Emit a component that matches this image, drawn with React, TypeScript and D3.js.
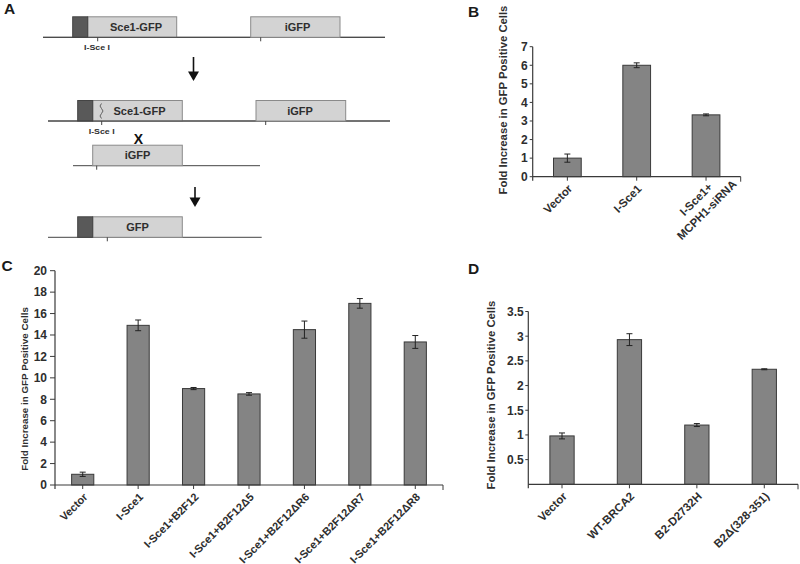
import React from 'react';
import * as d3 from 'd3';

const FONT = 'Arial, "Liberation Sans", Helvetica, sans-serif';
const TEXT = '#2e2e2e';
const BAR = '#848484';
const EDGE = '#3a3a3a';

// B: I-Sce1 with/without MCPH1 knockdown
const bCategories = ['Vector', 'I-Sce1', 'I-Sce1+\nMCPH1-siRNA'];
const bValues = [1.0, 6.0, 3.33];
const bErrors = [0.22, 0.13, 0.05];
const bTicks = [0, 1, 2, 3, 4, 5, 6, 7];

// C: BRCA2 fragments
const cCategories = [
  'Vector',
  'I-Sce1',
  'I-Sce1+B2F12',
  'I-Sce1+B2F12Δ5',
  'I-Sce1+B2F12ΔR6',
  'I-Sce1+B2F12ΔR7',
  'I-Sce1+B2F12ΔR8',
];
const cValues = [1.0, 14.9, 9.0, 8.5, 14.5, 16.95, 13.35];
const cErrors = [0.2, 0.5, 0.1, 0.12, 0.8, 0.45, 0.6];
const cTicks = [0, 2, 4, 6, 8, 10, 12, 14, 16, 18, 20];

// D: full-length BRCA2 mutants
const dCategories = ['Vector', 'WT-BRCA2', 'B2-D2732H', 'B2Δ(328-351)'];
const dValues = [0.98, 2.93, 1.2, 2.33];
const dErrors = [0.06, 0.12, 0.03, 0.01];
const dTicks = [0.5, 1, 1.5, 2, 2.5, 3, 3.5];

const Y_TITLE = 'Fold Increase in GFP Positive Cells';

function BarPanel(p: any) {
  const x = d3
    .scaleBand<string>()
    .domain(p.categories)
    .range([p.x0, p.x1])
    .paddingInner(p.pad)
    .paddingOuter(p.pad / 2);
  const y = d3.scaleLinear().domain([0, p.yMax]).range([p.base, p.top]);
  const bw = x.bandwidth();
  const yTop = y(p.yMax);

  return (
    <g fontFamily={FONT} fontWeight="bold" fill={TEXT}>
      {p.categories.map((c: string, i: number) => {
        const v = p.values[i];
        const e = p.errors[i];
        const cx = (x(c) as number) + bw / 2;
        return (
          <g key={c}>
            <rect x={x(c)} y={y(v)} width={bw} height={p.base - y(v)} fill={BAR} stroke={EDGE} strokeWidth={1} />
            <line x1={cx} x2={cx} y1={y(v + e)} y2={y(v - e)} stroke="#222" strokeWidth={1} />
            <line x1={cx - 3} x2={cx + 3} y1={y(v + e)} y2={y(v + e)} stroke="#222" strokeWidth={1} />
            <line x1={cx - 3} x2={cx + 3} y1={y(v - e)} y2={y(v - e)} stroke="#222" strokeWidth={1} />
            <line x1={cx} x2={cx} y1={p.base} y2={p.base + 4} stroke={EDGE} />
          </g>
        );
      })}
      {/* axes */}
      <line x1={p.x0} x2={p.x1} y1={p.base} y2={p.base} stroke={EDGE} strokeWidth={1.2} />
      <line x1={p.x1} x2={p.x1} y1={p.base} y2={p.base + 5} stroke={EDGE} />
      <line x1={p.x0} x2={p.x0} y1={yTop} y2={p.base + 4} stroke={EDGE} strokeWidth={1.2} />
      {p.ticks.map((t: number) => (
        <g key={t}>
          <line x1={p.x0 - p.tickLen} x2={p.x0} y1={y(t)} y2={y(t)} stroke={EDGE} />
          <text x={p.x0 - p.tickLen - p.gap} y={y(t)} dy="0.36em" textAnchor="end" fontSize={p.tickFont}>
            {t}
          </text>
        </g>
      ))}
      {/* category labels */}
      {p.categories.map((c: string) => {
        const cx = (x(c) as number) + bw / 2;
        const lines = c.split('\n');
        return (
          <g key={'l' + c} transform={`translate(${cx},${p.base}) rotate(-45)`} fontSize={p.catFont}>
            {lines.length === 1 ? (
              <text x={-5} y={13} textAnchor="end">
                {c}
              </text>
            ) : (
              lines.map((l, k) => (
                <text key={k} x={-23} y={13 + k * 15} textAnchor="middle">
                  {l}
                </text>
              ))
            )}
          </g>
        );
      })}
      <text
        transform={`translate(${p.titleX},${p.titleY}) rotate(-90)`}
        textAnchor="middle"
        fontSize={p.titleFont}
      >
        {Y_TITLE}
      </text>
      <text x={p.letterX} y={p.letterY} fontSize={15.5} fill="#1a1a1a">
        {p.letter}
      </text>
    </g>
  );
}

// Panel A: recombination reporter schematic
const BOX_H = 20.5;
const LIGHT = '#d3d3d3';
const LIGHT_EDGE = '#8a8a8a';
const DARK = '#595959';

function Construct({ y, line, dark, light, label, labelX, marks }: any) {
  return (
    <g>
      <line x1={line[0]} x2={line[1]} y1={y} y2={y} stroke="#444" strokeWidth={1} />
      {light && (
        <rect x={light[0]} y={y - BOX_H} width={light[1] - light[0]} height={BOX_H} fill={LIGHT} stroke={LIGHT_EDGE} />
      )}
      {dark && <rect x={dark[0]} y={y - BOX_H} width={dark[1] - dark[0]} height={BOX_H} fill={DARK} stroke="#444" />}
      {label && (
        <text x={labelX} y={y - BOX_H / 2} dy="0.36em" textAnchor="middle" fontSize={11}>
          {label}
        </text>
      )}
      {marks.map((m: number) => (
        <line key={m} x1={m} x2={m} y1={y} y2={y + 4} stroke="#444" />
      ))}
    </g>
  );
}

function Arrow({ x, y1, y2 }: any) {
  return (
    <g>
      <line x1={x} x2={x} y1={y1} y2={y2 - 8} stroke="#111" strokeWidth={1.6} />
      <path d={`M${x - 5.5},${y2 - 9.5}L${x + 5.5},${y2 - 9.5}L${x},${y2}Z`} fill="#111" />
    </g>
  );
}

function PanelA() {
  return (
    <g fontFamily={FONT} fontWeight="bold" fill={TEXT}>
      <text x={4} y={14} fontSize={15.5} fill="#1a1a1a">A</text>
      <Construct y={37.3} line={[43, 385]} dark={[72.7, 87.7]} light={[87.7, 176.7]} label="Sce1-GFP" labelX={136} marks={[97.7]} />
      <Construct y={37.3} line={[43, 385]} light={[250.7, 340]} label="iGFP" labelX={297.5} marks={[260.7]} />
      <text x={97} y={50} textAnchor="middle" fontSize={8} textLength={26} lengthAdjust="spacingAndGlyphs">I-Sce I</text>
      <Arrow x={193.5} y1={57} y2={81} />

      <Construct y={121} line={[48, 390]} dark={[77.7, 92.7]} light={[92.7, 182.3]} label="Sce1-GFP" labelX={139.5} marks={[101.7]} />
      <Construct y={121} line={[48, 390]} light={[256, 345.7]} label="iGFP" labelX={300} marks={[265.7]} />
      <path
        d="M101.5,103.5 q-3,2.5 0,5 q3,2.5 0,5 q-3,2.5 0,5"
        fill="none"
        stroke="#555"
        strokeWidth={0.9}
      />
      <text x={101.7} y={134} textAnchor="middle" fontSize={8} textLength={26} lengthAdjust="spacingAndGlyphs">I-Sce I</text>
      <text x={138.3} y={144} textAnchor="middle" fontSize={14} fill="#111">X</text>

      <Construct y={165.7} line={[73, 260]} light={[92.7, 182.3]} label="iGFP" labelX={137.5} marks={[96.7]} />
      <Arrow x={195} y1={187} y2={207} />

      <Construct y={237.3} line={[48, 261.7]} dark={[77.7, 92.7]} light={[92.7, 182.3]} label="GFP" labelX={137.5} marks={[107.3]} />
    </g>
  );
}

export default function App() {
  return (
    <div style={{ position: 'absolute', left: 0, top: 0, background: '#fff' }}>
      <svg width={800} height={564} style={{ display: 'block' }}>
        <rect width={800} height={564} fill="#fff" />
        <PanelA />
        <BarPanel
          letter="B"
          letterX={468}
          letterY={17}
          categories={bCategories}
          values={bValues}
          errors={bErrors}
          ticks={bTicks}
          yMax={7}
          x0={532.7}
          x1={740.7}
          base={176.7}
          top={46.7}
          pad={0.6}
          tickLen={3}
          gap={2}
          tickFont={12}
          catFont={11.5}
          titleX={507}
          titleY={100}
          titleFont={11.3}
        />
        <BarPanel
          letter="C"
          letterX={1.5}
          letterY={271}
          categories={cCategories}
          values={cValues}
          errors={cErrors}
          ticks={cTicks}
          yMax={20}
          x0={55}
          x1={443}
          base={485}
          top={270.7}
          pad={0.6}
          tickLen={5}
          gap={3}
          tickFont={12}
          catFont={11}
          titleX={28}
          titleY={389}
          titleFont={9.8}
        />
        <BarPanel
          letter="D"
          letterX={468}
          letterY={274}
          categories={dCategories}
          values={dValues}
          errors={dErrors}
          ticks={dTicks}
          yMax={3.5}
          x0={528.3}
          x1={798}
          base={484.3}
          top={311.5}
          pad={0.64}
          tickLen={3}
          gap={1.5}
          tickFont={12}
          catFont={11.5}
          titleX={495}
          titleY={395}
          titleFont={11.3}
        />
      </svg>
    </div>
  );
}
